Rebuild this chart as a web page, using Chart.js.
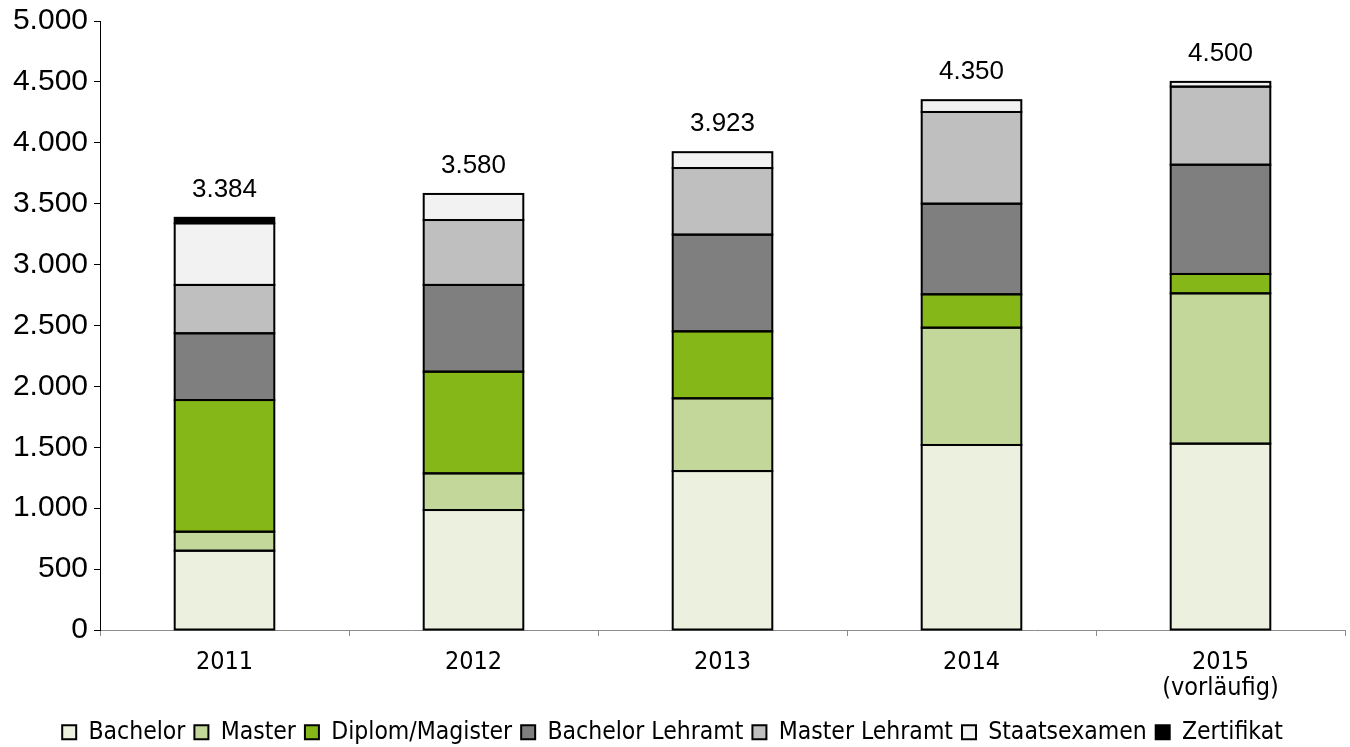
<!DOCTYPE html>
<html lang="de">
<head>
<meta charset="utf-8">
<title>Absolventen nach Abschlussart</title>
<script src="https://cdn.jsdelivr.net/npm/chart.js@4/dist/chart.umd.min.js"></script>
<style>
    html, body { margin: 0; padding: 0; background: #fff; }
    #wrap { width: 1350px; height: 747px; }
</style>
</head>
<body>
<div id="wrap"><canvas id="absChart" width="1350" height="747"></canvas></div>
<script>
// Jahre (2015 noch vorläufig)
const years = ['2011', '2012', '2013', '2014', ['2015', '(vorläufig)']];

// Abschlüsse je Abschlussart
const bachelor        = [651, 985, 1305, 1519, 1530];
const master          = [156, 301, 597, 963, 1234];
const diplomMagister  = [1081, 835, 550, 274, 159];
const bachelorLehramt = [548, 712, 794, 744, 897];
const masterLehramt   = [397, 533, 547, 753, 641];
const staatsexamen    = [506, 214, 130, 97, 39];
const zertifikat      = [45, null, null, null, null];

const yTicks = [0, 500, 1000, 1500, 2000, 2500, 3000, 3500, 4000, 4500, 5000];

const LABEL_FONT = '"Liberation Sans", Arial, sans-serif';
const COND_FONT = '"DejaVu Sans Condensed", "DejaVu Sans", sans-serif';

// 3384 -> "3.384"
const fmtDe = (v) => String(v).replace(/\B(?=(\d{3})+(?!\d))/g, '.');

const series = [
    { label: 'Bachelor',         data: bachelor,        color: '#ebf0df' },
    { label: 'Master',           data: master,          color: '#c4d79b' },
    { label: 'Diplom/Magister',  data: diplomMagister,  color: '#85b719' },
    { label: 'Bachelor Lehramt', data: bachelorLehramt, color: '#7f7f7f' },
    { label: 'Master Lehramt',   data: masterLehramt,   color: '#bfbfbf' },
    { label: 'Staatsexamen',     data: staatsexamen,    color: '#f2f2f2' },
    { label: 'Zertifikat',       data: zertifikat,      color: '#000000' }
];

// Legende flacher machen (Chart.js rechnet sonst +10px drauf)
const legendFit = {
    id: 'legendFit',
    beforeLayout(chart) {
        const lg = chart.legend;
        if (!lg || lg._fitPatched) return;
        const fit = lg.fit;
        lg.fit = function () {
            fit.call(this);
            this.height = 36;
        };
        lg._fitPatched = true;
    }
};

// schwarze Umrandung je Segment, mittig auf der Kante -> gleich dicke Trennlinien
const barOutlines = {
    id: 'barOutlines',
    afterDatasetsDraw(chart) {
        const ctx = chart.ctx;
        ctx.save();
        ctx.strokeStyle = '#000';
        ctx.lineWidth = 2;
        chart.data.datasets.forEach((ds, di) => {
            chart.getDatasetMeta(di).data.forEach((bar, i) => {
                if (ds.data[i] == null) return;
                const { x, y, base, width } = bar.getProps(['x', 'y', 'base', 'width'], true);
                ctx.strokeRect(x - width / 2, y, width, base - y);
            });
        });
        ctx.restore();
    }
};

// Summe über alle Abschlussarten über dem Balken
const totalLabels = {
    id: 'totalLabels',
    afterDatasetsDraw(chart) {
        const { ctx, scales: { x, y } } = chart;
        ctx.save();
        ctx.font = '26px ' + LABEL_FONT;
        ctx.fillStyle = '#000';
        ctx.textAlign = 'center';
        ctx.textBaseline = 'alphabetic';
        years.forEach((_, i) => {
            const sum = series.reduce((acc, s) => acc + (s.data[i] || 0), 0);
            ctx.fillText(fmtDe(sum), x.getPixelForValue(i), y.getPixelForValue(sum) - 21);
        });
        ctx.restore();
    }
};

new Chart(document.getElementById('absChart').getContext('2d'), {
    type: 'bar',
    data: {
        labels: years,
        datasets: series.map(s => ({
            label: s.label,
            data: s.data,
            backgroundColor: s.color,
            borderColor: '#000',
            borderWidth: 0,
            inflateAmount: 0,
            categoryPercentage: 1,
            barPercentage: 0.4
        }))
    },
    options: {
        responsive: false,
        animation: false,
        layout: { padding: { top: 21, right: 5, left: 0, bottom: 0 } },
        plugins: {
            tooltip: { enabled: false },
            legend: {
                position: 'bottom',
                labels: {
                    font: { family: COND_FONT, size: 24.5, lineHeight: 1 },
                    color: '#000',
                    boxWidth: 14,
                    boxHeight: 14,
                    padding: 9,
                    generateLabels(chart) {
                        return chart.data.datasets.map((ds, i) => ({
                            text: ds.label,
                            fillStyle: ds.backgroundColor,
                            strokeStyle: '#000',
                            lineWidth: 2,
                            hidden: false,
                            datasetIndex: i
                        }));
                    }
                }
            }
        },
        scales: {
            x: {
                stacked: true,
                afterFit(scale) { scale.height = 81; },
                border: { color: '#8c8c8c', width: 1 },
                grid: { drawOnChartArea: false, color: '#8c8c8c', tickLength: 6, offset: true },
                ticks: {
                    font: { family: COND_FONT, size: 25, lineHeight: 1.05 },
                    color: '#000',
                    padding: 13
                }
            },
            y: {
                stacked: true,
                min: 0,
                max: 5000,
                afterFit(scale) { scale.width = 100; },
                afterBuildTicks(scale) { scale.ticks = yTicks.map(v => ({ value: v })); },
                border: { color: '#000', width: 1 },
                grid: { drawOnChartArea: false, color: '#000', tickLength: 6 },
                ticks: {
                    font: { family: LABEL_FONT, size: 30, lineHeight: 1 },
                    color: '#000',
                    padding: 6,
                    callback: (v) => fmtDe(v)
                }
            }
        }
    },
    plugins: [legendFit, barOutlines, totalLabels]
});
</script>
</body>
</html>
